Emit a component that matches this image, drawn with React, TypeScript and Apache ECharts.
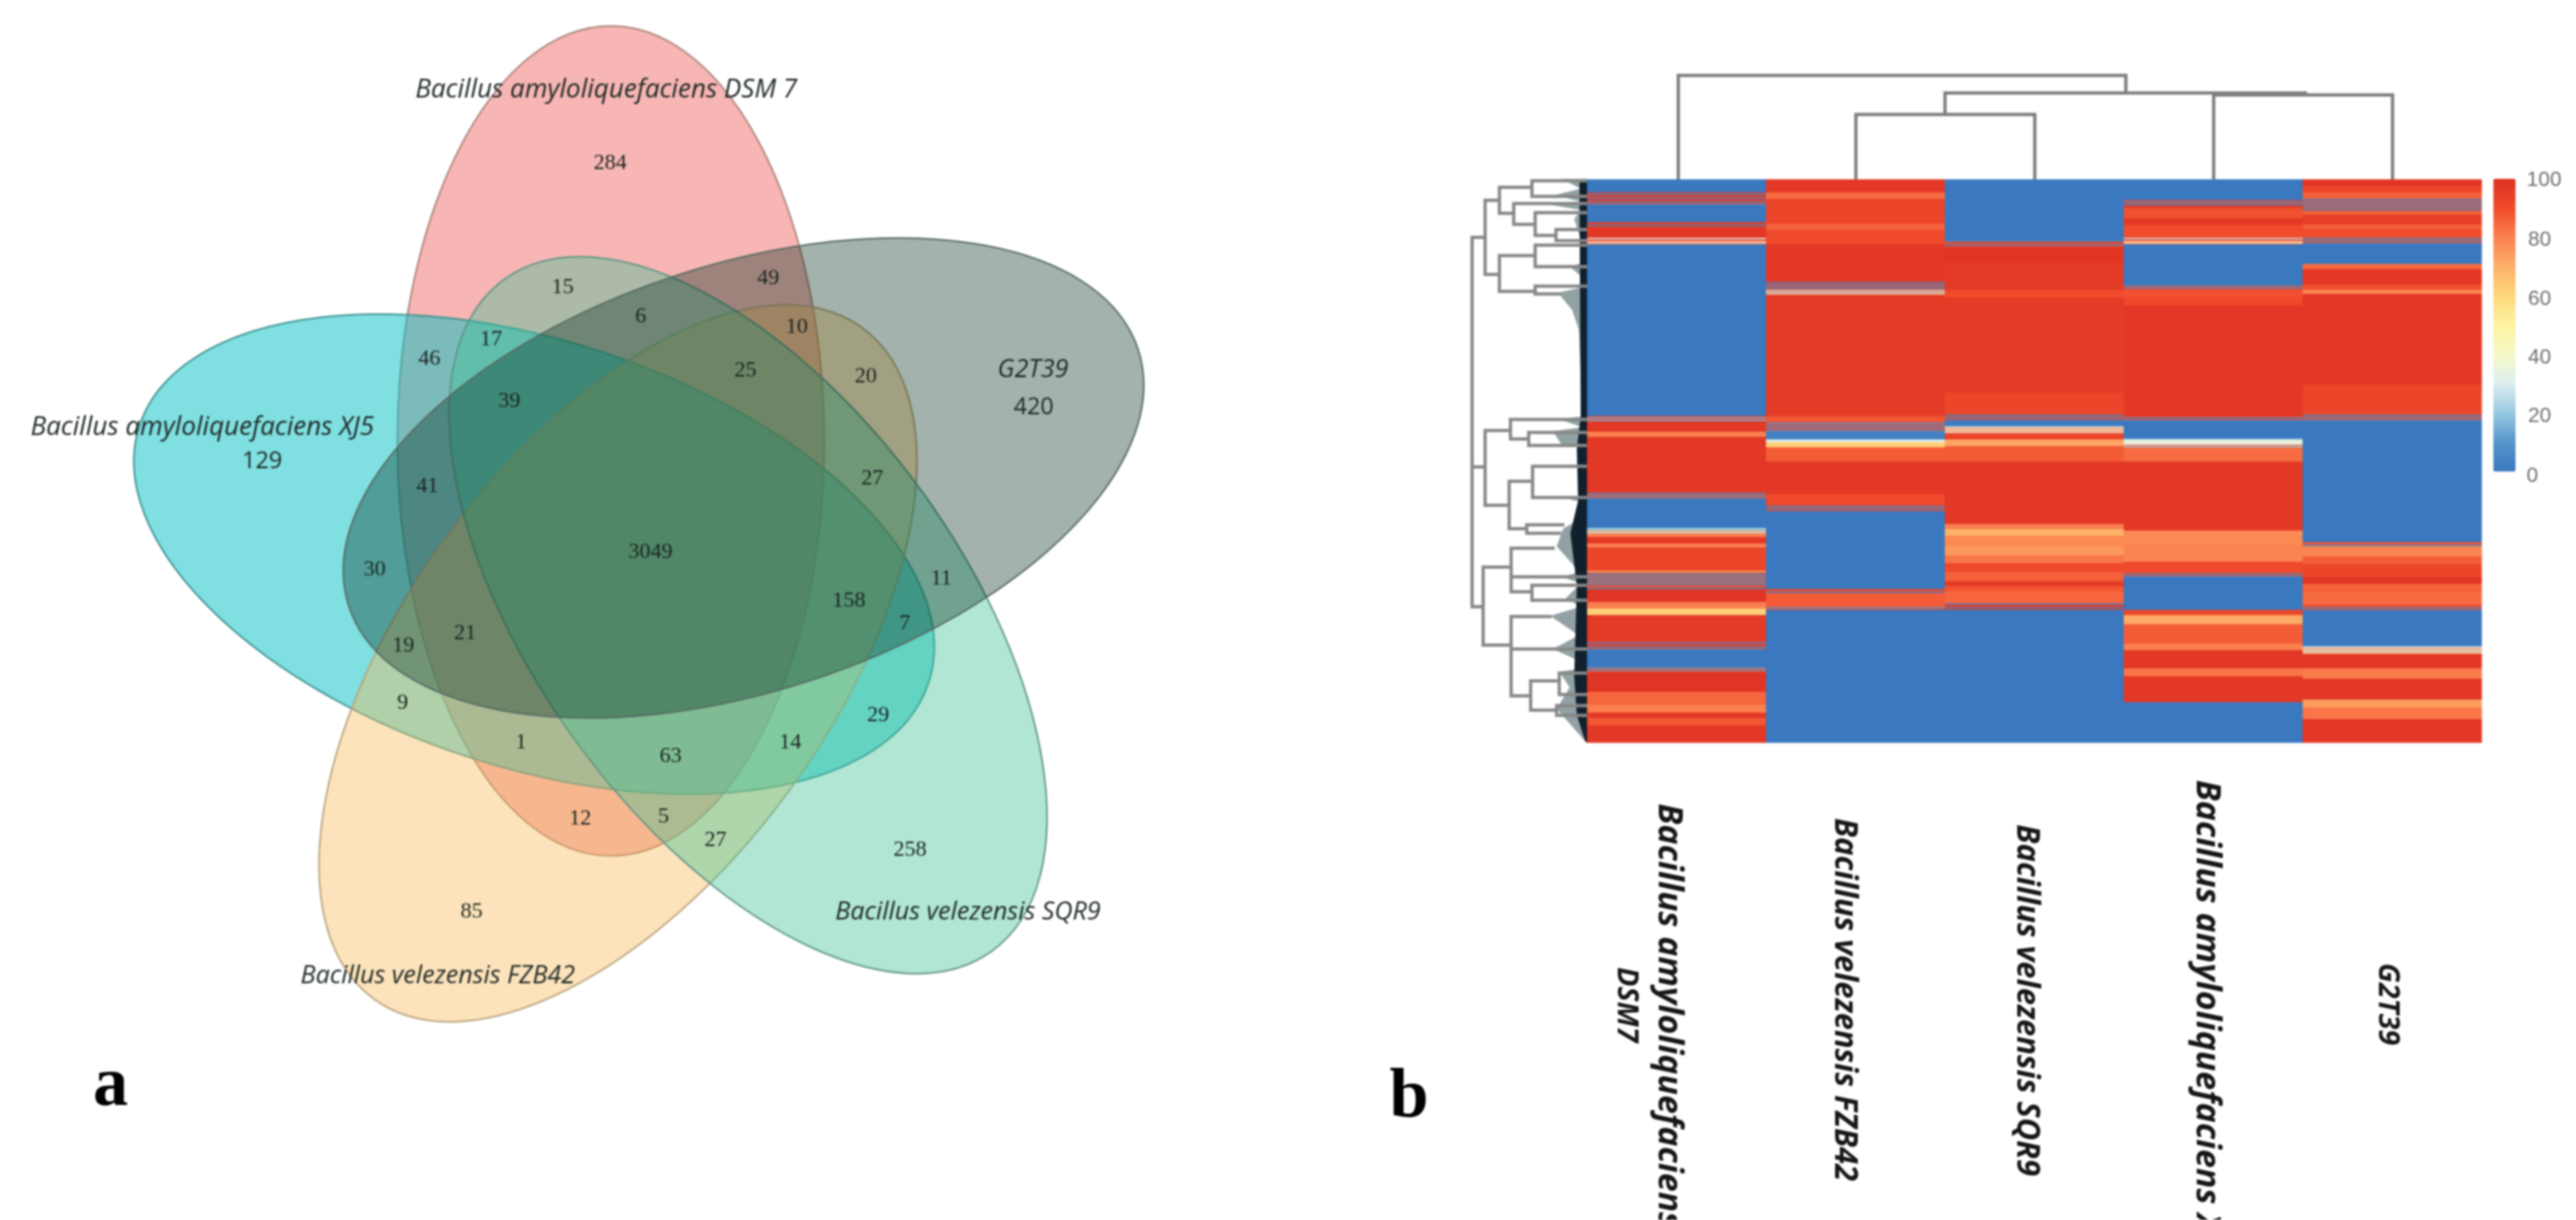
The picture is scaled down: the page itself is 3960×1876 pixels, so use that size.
import React, { useEffect, useRef } from "react";
import * as echarts from "echarts";

const PAGE_W = 3960;
const PAGE_H = 1876;

// ---------- Venn diagram (panel a) ----------
const vennAmyloSets = ["Bacillus amyloliquefaciens DSM 7", "Bacillus amyloliquefaciens XJ5"];
const vennAmyloPos = [[932, 134], [311, 653]];
const vennOtherSets = ["Bacillus velezensis FZB42", "Bacillus velezensis SQR9", "G2T39"];
const vennOtherPos = [[673, 1497], [1488, 1399], [1588, 565]];
const vennCenters = [[939, 678], [821, 852], [950, 1020], [1150, 946], [1143, 735]];
const vennAngles = [90, -18, 54, -54, 18];
const vennRadii = [638, 328];
const vennFills = ["rgba(235,72,67,0.4)", "rgba(0,192,195,0.5)", "rgba(248,185,85,0.4)", "rgba(60,192,148,0.4)", "rgba(0,42,26,0.36)"];
const vennStrokes = ["#a98078", "#3d8f90", "#b8a27a", "#5f9484", "#566b62"];

const vennCounts = ["284", "15", "49", "6", "10", "17", "46", "25", "20", "39", "41", "27", "3049", "30", "11", "158", "7", "19", "21", "9", "29", "1", "14", "63", "12", "5", "27", "258", "85"];
const vennCountPos = [[938, 248], [865, 439], [1181, 425], [985, 484], [1225, 500], [755, 519], [660, 549], [1146, 567], [1331, 576], [783, 614], [657, 745], [1341, 733], [1000, 846], [576, 873], [1447, 887], [1305, 921], [1391, 956], [620, 990], [715, 971], [619, 1078], [1350, 1097], [801, 1139], [1215, 1139], [1031, 1160], [892, 1256], [1020, 1253], [1100, 1289], [1399, 1304], [725, 1399]];
const vennSansCounts = ["420", "129"];
const vennSansCountPos = [[1589, 623], [403, 706]];

const panelLetters = ["a", "b"];
const panelLetterPos = [[170, 1662], [2166, 1680]];

// ---------- Heatmap (panel b) ----------
const heatColumns = ["DSM7", "FZB42", "SQR9", "XJ5", "G2T39"];
const heatRowCount = 433;
// each run: [end row, value, optional value of interleaved rows, spacing of the interleaved rows]
type Run = [number, number, number?, number?];
const dsm7Runs: Run[] = [[10, 0], [17, 96, 4, 3], [20, 92, 4], [33, 0], [37, 96, 4, 3], [45, 97], [47, 92, 30], [50, 30, 82], [182, 0], [186, 92, 15], [194, 97], [198, 80], [241, 97], [246, 88, 4], [268, 0], [270, 20], [272, 74, 26], [275, 80], [280, 96], [283, 80], [301, 92], [303, 88, 70], [311, 86, 3], [315, 90, 4, 3], [325, 98], [330, 80], [335, 62], [355, 96], [359, 94, 4, 3], [362, 90, 3], [375, 0], [379, 90, 10], [394, 98], [404, 85], [410, 80], [414, 97], [420, 88], [433, 97]];
const fzb42Runs: Run[] = [[10, 97], [15, 84], [34, 92], [39, 86], [50, 91], [79, 97], [85, 92, 4], [89, 80, 24], [182, 96], [187, 88], [194, 92, 8], [200, 3], [202, 30], [206, 62], [217, 87], [242, 97], [250, 91], [255, 92, 4], [315, 0], [318, 92, 4, 3], [329, 87], [331, 92, 10], [433, 0]];
const sqr9Runs: Run[] = [[47, 0], [52, 92, 4, 3], [64, 98], [85, 96], [91, 90], [164, 96], [181, 92], [185, 92, 4], [190, 1], [195, 34, 80], [200, 93], [205, 72], [217, 87], [265, 97], [269, 80], [274, 69], [282, 78], [289, 75], [295, 82], [302, 91], [309, 86], [313, 96], [317, 88], [326, 85], [331, 96, 4, 3], [433, 0]];
const xj5Runs: Run[] = [[16, 0], [20, 92, 4], [22, 97], [30, 89], [35, 97], [45, 90], [47, 90, 26], [50, 34, 80], [81, 0], [85, 90, 4], [91, 89], [97, 91], [182, 97], [186, 92, 4], [199, 0], [200, 12], [204, 34], [206, 84, 20], [217, 84], [270, 97], [281, 78], [294, 79], [303, 91], [306, 90, 4], [331, 0], [335, 92], [342, 71], [357, 87], [362, 80], [376, 97], [382, 82], [402, 97], [433, 0]];
const g2t39Runs: Run[] = [[5, 98], [10, 92], [15, 86], [25, 88, 3], [27, 85], [35, 94], [38, 86], [45, 90], [50, 90, 4], [65, 0], [69, 84], [81, 97], [85, 89], [88, 78], [158, 97], [181, 92], [186, 90, 4], [279, 0], [282, 88, 4, 3], [290, 79], [296, 87], [306, 92], [311, 98], [317, 86], [327, 84], [331, 90, 4, 3], [359, 0], [365, 76, 28], [376, 97], [384, 81], [400, 97], [406, 74], [415, 82], [433, 97]];
const heatRuns = [dsm7Runs, fzb42Runs, sqr9Runs, xj5Runs, g2t39Runs];

const colorStops = ["#3a78bf", "#5595c9", "#97c8e0", "#dceef0", "#f5f9c8", "#fdf3a0", "#fed77c", "#fdb068", "#fb8050", "#f04c2c", "#dc2f22"];
const colorbarTicks = ["100", "80", "60", "40", "20", "0"];
const colorbarTickPos = [[3911, 275], [3904, 367], [3904, 458], [3904, 548], [3904, 638], [3893, 730]];

const heatAmyloLabels = ["Bacillus amyloliquefaciens", "Bacillus amyloliquefaciens XJ5"];
const heatAmyloPos = [[2570, 1562], [3397, 1571]];
const heatOtherLabels = ["Bacillus velezensis FZB42", "Bacillus velezensis SQR9"];
const heatOtherPos = [[2839, 1537], [3119, 1538]];
const heatShortLabels = ["DSM7", "G2T39"];
const heatShortPos = [[2504, 1545], [3674, 1544]];

// ---------- Dendrograms ----------
// columns: [bar y, left x, left end y, right x, right end y]
const topDendrogram = [[116, 2580, 276, 3268, 143], [143, 2990, 176, 3544, 146], [176, 2853, 276, 3128, 276], [146, 3403, 276, 3678, 276]];
// rows: [bar x, top y, top end x, bottom y, bottom end x]
const sideDendrogram = [
  [2263, 365, 2283, 933, 2280], [2283, 308, 2305, 422, 2305], [2305, 288, 2355, 328, 2327], [2355, 278, 2440, 302, 2440],
  [2327, 313, 2440, 345, 2360], [2360, 327, 2440, 362, 2392], [2392, 353, 2440, 370, 2440], [2305, 393, 2360, 448, 2360],
  [2360, 377, 2440, 410, 2440], [2360, 440, 2440, 452, 2400], [2283, 662, 2322, 777, 2320], [2322, 645, 2440, 675, 2350],
  [2350, 665, 2440, 685, 2440], [2320, 740, 2356, 813, 2347], [2356, 717, 2440, 765, 2440], [2347, 807, 2405, 820, 2400],
  [2280, 872, 2323, 992, 2323], [2323, 843, 2390, 910, 2355], [2355, 900, 2440, 923, 2440], [2323, 948, 2385, 1070, 2353],
  [2353, 1047, 2397, 1092, 2393], [2397, 1035, 2440, 1068, 2440], [2393, 1085, 2440, 1100, 2440],
];
// stubs: [y, from x, to x]
const sideStubs = [[718, 2263, 2283], [887, 2323, 2440], [998, 2323, 2440]];
const leafFringe = [
  [2440, 275], [2400, 275], [2430, 290], [2390, 300], [2430, 310], [2373, 313], [2430, 323], [2420, 337], [2430, 367], [2437, 380], [2437, 403], [2413, 410], [2437, 430], [2427, 443], [2395, 450], [2417, 477], [2427, 507], [2430, 573], [2433, 640], [2397, 645], [2433, 657], [2387, 663], [2400, 683], [2433, 688], [2437, 760], [2413, 768], [2437, 773], [2437, 793], [2403, 813], [2393, 840], [2417, 867], [2427, 880], [2400, 887], [2430, 897], [2407, 920], [2430, 933], [2383, 947], [2427, 977], [2387, 998], [2430, 1017], [2437, 1027], [2397, 1033], [2413, 1057], [2393, 1090], [2437, 1140], [2440, 1142],
];
const leafCore = [[2440, 276], [2428, 276], [2430, 640], [2424, 690], [2426, 770], [2414, 820], [2424, 900], [2420, 1040], [2424, 1100], [2437, 1140], [2440, 1142]];

function expandRuns(runs: Run[]): number[] {
  const out: number[] = [];
  let r = 0;
  for (const [end, v, alt, every] of runs) {
    const n = every ?? 2;
    for (; r < end; r++) out.push(alt !== undefined && r % n === n - 1 ? alt : v);
  }
  return out;
}

const pageAxes = { xAxisIndex: 0, yAxisIndex: 0, coordinateSystem: "cartesian2d", silent: true, clip: false };

function textSeries(texts: string[], pos: number[][], style: any, z: number, rotation = 0) {
  return {
    type: "custom",
    ...pageAxes,
    z,
    encode: { x: 0, y: 1 },
    data: pos,
    renderItem: (p: any, api: any) => {
      const [x, y] = api.coord([api.value(0), api.value(1)]);
      return {
        type: "text",
        x,
        y,
        rotation,
        style: { text: texts[p.dataIndex], align: "center", verticalAlign: "middle", ...style },
      };
    },
  };
}

function polylineSeries(lines: number[][][], stroke: string, lineWidth: number, z: number) {
  return {
    type: "custom",
    ...pageAxes,
    z,
    encode: { x: 0, y: 1 },
    data: lines.map((l) => l[0]),
    renderItem: (p: any, api: any) => ({
      type: "polyline",
      shape: { points: lines[p.dataIndex].map((q) => api.coord(q)) },
      style: { stroke, lineWidth, fill: "none", lineJoin: "miter" },
    }),
  };
}

function polygonSeries(points: number[][], fill: string, z: number) {
  return {
    type: "custom",
    ...pageAxes,
    z,
    encode: { x: 0, y: 1 },
    data: [points[0]],
    renderItem: (_p: any, api: any) => ({
      type: "polygon",
      shape: { points: points.map((q) => api.coord(q)) },
      style: { fill, stroke: "none" },
    }),
  };
}

export default function App() {
  const ref = useRef<HTMLDivElement>(null);
  useEffect(() => {
    document.body.style.margin = "0";
    const chart = echarts.init(ref.current!, undefined, { renderer: "svg" });

    const heatData: number[][] = [];
    heatRuns.forEach((runs, c) => expandRuns(runs).forEach((v, r) => heatData.push([c, r, v])));
    const rows = Array.from({ length: heatRowCount }, (_, i) => String(i));

    const topLines = topDendrogram.map(([y, xl, yl, xr, yr]) => [[xl, yl], [xl, y], [xr, y], [xr, yr]]);
    const sideLines = [
      ...sideDendrogram.map(([x, yt, xt, yb, xb]) => [[xt, yt], [x, yt], [x, yb], [xb, yb]]),
      ...sideStubs.map(([y, a, b]) => [[a, y], [b, y]]),
    ];

    const labelFont = { fontFamily: "Open Sans", fontStyle: "italic", fill: "#1e2825" };
    const numberFont = { fontFamily: "Liberation Serif", fontSize: 34, fill: "#1a2320" };
    const heatFont = { fontFamily: "Open Sans", fontStyle: "italic", fontWeight: "bold", fill: "#161616" };

    const vennSeries = {
      type: "custom",
      ...pageAxes,
      z: 1,
      encode: { x: 0, y: 1 },
      data: vennCenters,
      renderItem: (p: any, api: any) => {
        const i = p.dataIndex;
        const [x, y] = api.coord([api.value(0), api.value(1)]);
        return {
          type: "ellipse",
          x,
          y,
          rotation: (vennAngles[i] * Math.PI) / 180,
          shape: { cx: 0, cy: 0, rx: vennRadii[0], ry: vennRadii[1] },
          style: { fill: vennFills[i], stroke: vennStrokes[i], lineWidth: 2.5 },
        };
      },
    };

    chart.setOption({
      animation: false,
      backgroundColor: "#fff",
      tooltip: { show: false },
      grid: [
        { left: 0, top: 0, width: PAGE_W, height: PAGE_H },
        { left: 2440, top: 276, width: 1375, height: 866 },
      ],
      xAxis: [
        { type: "value", gridIndex: 0, min: 0, max: PAGE_W, show: false },
        { type: "category", gridIndex: 1, data: heatColumns, show: false },
      ],
      yAxis: [
        { type: "value", gridIndex: 0, min: 0, max: PAGE_H, inverse: true, show: false },
        { type: "category", gridIndex: 1, data: rows, inverse: true, show: false },
      ],
      visualMap: {
        type: "continuous",
        seriesIndex: 0,
        min: 0,
        max: 100,
        calculable: false,
        hoverLink: false,
        realtime: false,
        show: true,
        left: 3833,
        top: 275,
        padding: 0,
        itemWidth: 34,
        itemHeight: 450,
        inRange: { color: colorStops },
      },
      series: [
        {
          type: "heatmap",
          xAxisIndex: 1,
          yAxisIndex: 1,
          data: heatData,
          progressive: 0,
          silent: true,
          z: 3,
          itemStyle: { borderWidth: 0 },
          emphasis: { disabled: true },
        },
        vennSeries,
        polygonSeries(leafFringe, "rgba(74,98,104,0.6)", 2),
        polygonSeries(leafCore, "#10202c", 2),
        polylineSeries(topLines, "#7d7d7d", 5, 2),
        polylineSeries(sideLines, "#878787", 5, 2),
        textSeries(vennAmyloSets, vennAmyloPos, { ...labelFont, fontSize: 40 }, 5),
        textSeries(vennOtherSets, vennOtherPos, { ...labelFont, fontSize: 38.5 }, 5),
        textSeries(vennCounts, vennCountPos, numberFont, 5),
        textSeries(vennSansCounts, vennSansCountPos, { fontFamily: "Open Sans", fontSize: 36, fill: "#1e2825" }, 5),
        textSeries(panelLetters, panelLetterPos, { fontFamily: "Liberation Serif", fontWeight: "bold", fontSize: 108, fill: "#000" }, 5),
        textSeries(colorbarTicks, colorbarTickPos, { fontFamily: "Liberation Sans", fontSize: 32, fill: "#6f6f6f" }, 5),
        textSeries(heatAmyloLabels, heatAmyloPos, { ...heatFont, fontSize: 52 }, 5, -Math.PI / 2),
        textSeries(heatOtherLabels, heatOtherPos, { ...heatFont, fontSize: 47.5 }, 5, -Math.PI / 2),
        textSeries(heatShortLabels, heatShortPos, { ...heatFont, fontSize: 44 }, 5, -Math.PI / 2),
      ],
    });
    return () => chart.dispose();
  }, []);
  return (
    <div style={{ width: PAGE_W, height: PAGE_H, overflow: "hidden" }}>
      <div ref={ref} style={{ width: PAGE_W, height: PAGE_H, filter: "blur(1.6px)" }} />
    </div>
  );
}
